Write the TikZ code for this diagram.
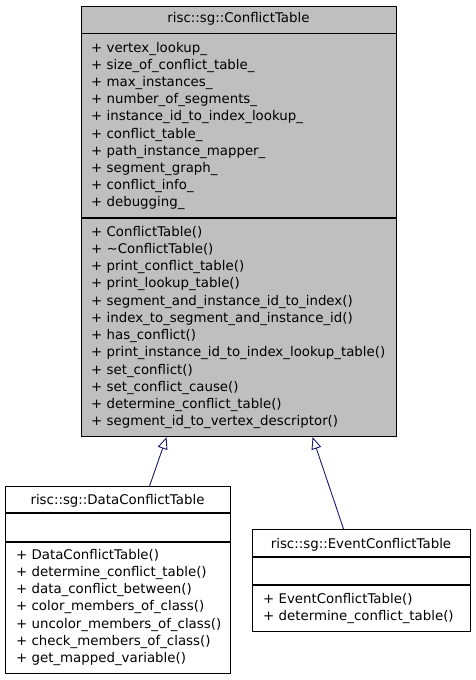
\documentclass[tikz,border=0pt]{standalone}
\usepackage{fontspec}
\setmainfont{DejaVu Sans}
\usetikzlibrary{arrows.meta}
\definecolor{boxgray}{HTML}{BFBFBF}
\definecolor{edgeblue}{HTML}{191970}
\begin{document}
\begin{tikzpicture}[x=1pt,y=-1pt,
  box/.style={draw=black,line width=1.1pt,rectangle,inner sep=0pt,anchor=north west},
  sep/.style={line width=1.1pt},
  lbl/.style={font=\fontsize{13.35}{16}\selectfont,inner sep=0pt,anchor=base west},
  ttl/.style={font=\fontsize{13.35}{16}\selectfont,inner sep=0pt,anchor=base},
  inh/.style={draw=edgeblue,line width=0.9pt,-{Triangle[open,length=12pt,width=10pt,fill=white]}}]
\useasboundingbox (0,0) rectangle (475,680);
\fill[white] (0,0) rectangle (475,680);
% main class
\node[box,fill=boxgray,minimum width=315pt,minimum height=430pt] (main) at (81,6) {};
\draw[sep] (81,33.5) -- (396,33.5);
\draw[sep] (81,218) -- (396,218);
\node[ttl] (mt) at (238.5,23) {risc::sg::ConflictTable};
\foreach \t [count=\i from 0] in {vertex\_lookup\_,size\_of\_conflict\_table\_,max\_instances\_,number\_of\_segments\_,instance\_id\_to\_index\_lookup\_,conflict\_table\_,path\_instance\_mapper\_,segment\_graph\_,conflict\_info\_,debugging\_}
  \node[lbl] (ma\i) at (91,52+17.2*\i) {+ \t};
\foreach \t [count=\i from 0] in {ConflictTable(),\textasciitilde ConflictTable(),print\_conflict\_table(),print\_lookup\_table(),segment\_and\_instance\_id\_to\_index(),index\_to\_segment\_and\_instance\_id(),has\_conflict(),print\_instance\_id\_to\_index\_lookup\_table(),set\_conflict(),set\_conflict\_cause(),determine\_conflict\_table(),segment\_id\_to\_vertex\_descriptor()}
  \node[lbl] (mm\i) at (91,236+17.25*\i) {+ \t};
% data class
\node[box,fill=white,minimum width=225pt,minimum height=187pt] (data) at (5,486) {};
\draw[sep] (5,513) -- (230,513);
\draw[sep] (5,542) -- (230,542);
\node[ttl] (dt) at (117.5,504) {risc::sg::DataConflictTable};
\foreach \t [count=\i from 0] in {DataConflictTable(),determine\_conflict\_table(),data\_conflict\_between(),color\_members\_of\_class(),uncolor\_members\_of\_class(),check\_members\_of\_class(),get\_mapped\_variable()}
  \node[lbl] (dm\i) at (16,559+17.3*\i) {+ \t};
% event class
\node[box,fill=white,minimum width=218pt,minimum height=102pt] (event) at (252,529) {};
\draw[sep] (252,557) -- (470,557);
\draw[sep] (252,585) -- (470,585);
\node[ttl] (et) at (361,548) {risc::sg::EventConflictTable};
\foreach \t [count=\i from 0] in {EventConflictTable(),determine\_conflict\_table()}
  \node[lbl] (em\i) at (263,603+17.2*\i) {+ \t};
% inheritance
\draw[inh] ([xshift=31.5pt]data.north) -- ([xshift=-72.5pt]main.south);
\draw[inh] ([xshift=-18pt]event.north) -- ([xshift=73.5pt]main.south);
\end{tikzpicture}
\end{document}
